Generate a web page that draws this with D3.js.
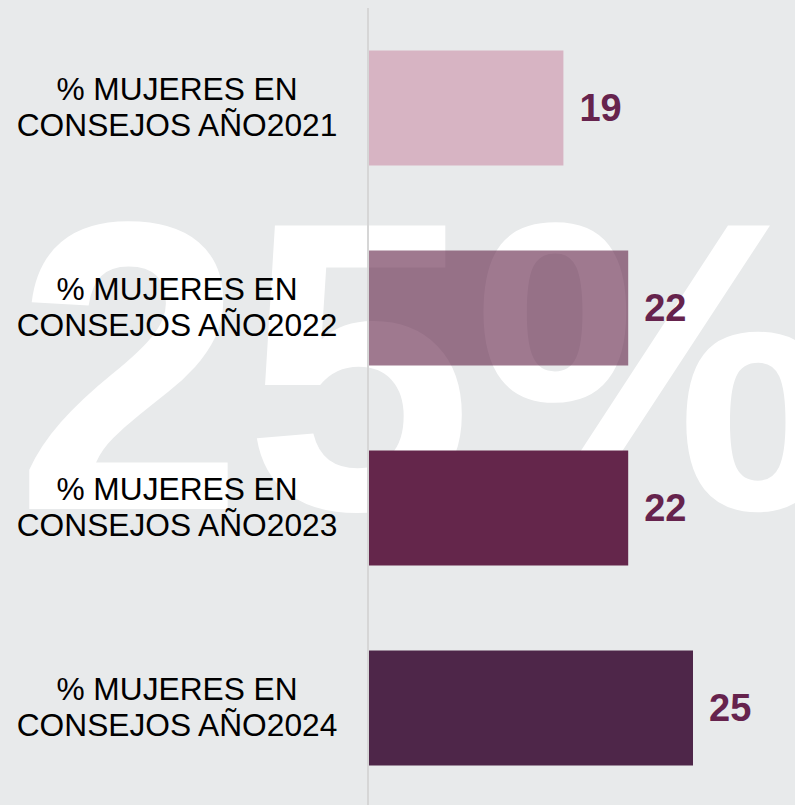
<!DOCTYPE html>
<html>
<head>
<meta charset="utf-8">
<script src="https://cdn.jsdelivr.net/npm/d3@7"></script>
<style>
    body { margin:0; padding:0; background:#e8eaeb; }
    svg { display:block; }
    .cat-label { font-family:"Liberation Sans", Arial, sans-serif; font-size:31.7px; fill:#000; }
    .val-label { font-family:"Liberation Sans", Arial, sans-serif; font-size:38px; font-weight:bold; fill:#66234d; }
    .watermark { font-family:"Liberation Sans", Arial, sans-serif; font-weight:bold; font-size:412px; fill:#fff; }
</style>
</head>
<body>
<div id="chart"></div>
<script>
// data
var years = ["2021", "2022", "2023", "2024"];
var values = [19, 22, 22, 25];
var labelLine1 = "% MUJERES EN";
var labelLine2 = "CONSEJOS AÑO";
var bigNumber = "25%";

var barColors = ["#d7b4c3", "#64264b", "#64264b", "#4e2649"];
var barOpacity = [1, 0.62, 1, 1];

var width = 795,
    height = 805;

var margin = {
    top:8,
    left:369
};

var svg = d3.select("#chart").append("svg")
        .attr("width", width)
        .attr("height", height);

svg.append("rect")
    .attr("width", width)
    .attr("height", height)
    .attr("fill", "#e8eaeb");

// axis does not start at zero (auto minimum)
var scaleX = d3.scaleLinear().domain([10, 25]).range([margin.left, 693]);
var scaleY = d3.scaleBand()
        .domain(years)
        .range([margin.top, margin.top + 800])
        .paddingInner(0.425)
        .paddingOuter(0.2125);

// big background figure
svg.append("text")
    .attr("class", "watermark")
    .attr("x", 15)
    .attr("y", 509)
    .text(bigNumber);

var bars = svg.selectAll(".bar")
        .data(values)
        .enter()
        .append("rect")
        .attr("class", "bar")
        .attr("x", scaleX(10))
        .attr("y", function(d, i){
            return scaleY(years[i]);
        })
        .attr("width", function(d){
            return scaleX(d) - scaleX(10);
        })
        .attr("height", scaleY.bandwidth())
        .style("fill", function(d, i){
            return barColors[i];
        })
        .style("opacity", function(d, i){
            return barOpacity[i];
        });

// vertical axis line
svg.append("line")
    .attr("x1", scaleX(10) - 1)
    .attr("x2", scaleX(10) - 1)
    .attr("y1", margin.top)
    .attr("y2", height)
    .style("stroke", "#d6d6d6")
    .style("stroke-width", 2);

var cats = svg.selectAll(".cat-label")
        .data(years)
        .enter()
        .append("text")
        .attr("class", "cat-label")
        .attr("text-anchor", "middle")
        .attr("transform", function(d){
            return "translate(177," + (scaleY(d) + scaleY.bandwidth() / 2) + ")";
        });

cats.append("tspan")
    .attr("x", 0)
    .attr("y", -8)
    .text(labelLine1);

cats.append("tspan")
    .attr("x", 0)
    .attr("y", 28)
    .text(function(d){
        return labelLine2 + d;
    });

svg.selectAll(".val-label")
    .data(values)
    .enter()
    .append("text")
    .attr("class", "val-label")
    .attr("x", function(d){
        return scaleX(d) + 16;
    })
    .attr("y", function(d, i){
        return scaleY(years[i]) + scaleY.bandwidth() / 2 + 13;
    })
    .text(function(d){
        return d;
    });
</script>
</body>
</html>
